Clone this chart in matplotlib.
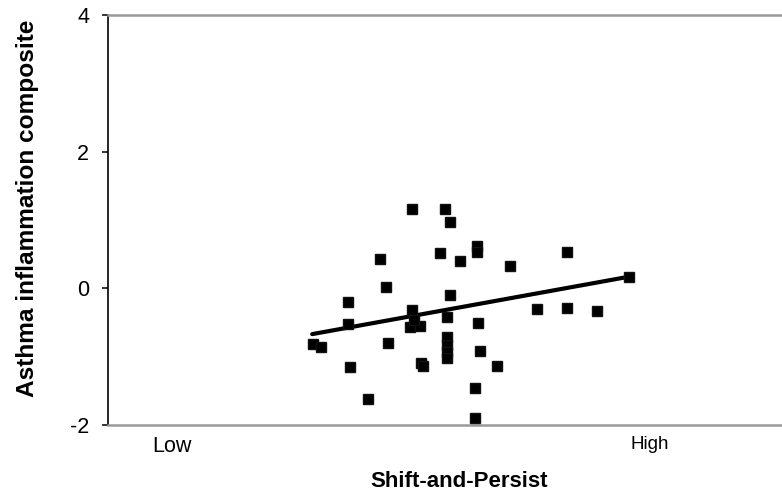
import matplotlib
matplotlib.use("Agg")
import matplotlib.pyplot as plt

plt.rcParams['font.family'] = ['Liberation Sans', 'DejaVu Sans']

# Data (x in arbitrary units along Shift-and-Persist axis)
shift_persist = [4.51, 5.00, 5.07, 4.04, 4.93, 5.22, 4.12, 5.07, 3.56, 4.51,
                 3.56, 4.48, 4.63, 4.54, 5.03, 5.03, 5.03, 5.03, 5.03, 3.04,
                 3.16, 4.15, 3.59, 4.64, 4.67, 3.86, 5.47, 5.47, 5.96, 6.81,
                 7.73, 6.36, 6.81, 7.26, 5.49, 5.52, 5.77, 5.45, 5.45]
asthma = [1.16, 1.16, 0.97, 0.43, 0.52, 0.40, 0.02, -0.10, -0.20, -0.32,
          -0.52, -0.57, -0.55, -0.46, -0.42, -0.71, -0.83, -0.93, -1.02, -0.82,
          -0.86, -0.80, -1.15, -1.09, -1.14, -1.62, 0.62, 0.53, 0.33, 0.53,
          0.17, -0.30, -0.29, -0.33, -0.51, -0.92, -1.14, -1.46, -1.90]

fit_x = [3.03, 7.73]
fit_y = [-0.67, 0.17]

ytick_vals = [-2, 0, 2, 4]
xtick_pos = [0.95, 8.04]
xtick_labels = ['Low', 'High']

fig = plt.figure(figsize=(7.82, 4.95), dpi=100)
ax = fig.add_axes([108/782, 1 - 425/495, 1 - 108/782, 410/495])

ax.plot(fit_x, fit_y, color='black', lw=3.0, solid_capstyle='round', zorder=2)
ax.plot(shift_persist, asthma, linestyle='none', marker='s', ms=7.5,
        color='black', mec='#111111', zorder=3)

ax.set_xlim(0, 10)
ax.set_ylim(-2, 4)
ax.set_yticks(ytick_vals)
ax.set_yticklabels([str(v) for v in ytick_vals])
ax.tick_params(axis='y', direction='out', length=4, width=1.1, pad=9.5,
               labelsize=15.5, color='black')

ax.set_xticks(xtick_pos)
ax.set_xticklabels(xtick_labels)
ax.tick_params(axis='x', length=0, pad=8)
tl = ax.get_xticklabels()
tl[0].set_fontsize(15.5)
tl[1].set_fontsize(13.5)

for side in ['top', 'bottom']:
    ax.spines[side].set_color('#999999')
    ax.spines[side].set_linewidth(1.8)
ax.spines['right'].set_visible(False)
ax.spines['left'].set_color('black')
ax.spines['left'].set_linewidth(1.2)

ax.set_xlabel('Shift-and-Persist', fontsize=16, fontweight='bold', va='center')
ax.xaxis.set_label_coords(0.521, -0.137)
ax.set_ylabel('Asthma inflammation composite', fontsize=17.6, fontweight='bold',
              va='center')
ax.yaxis.set_label_coords(-0.120, 0.529)

fig.savefig('out.png', dpi=100)
